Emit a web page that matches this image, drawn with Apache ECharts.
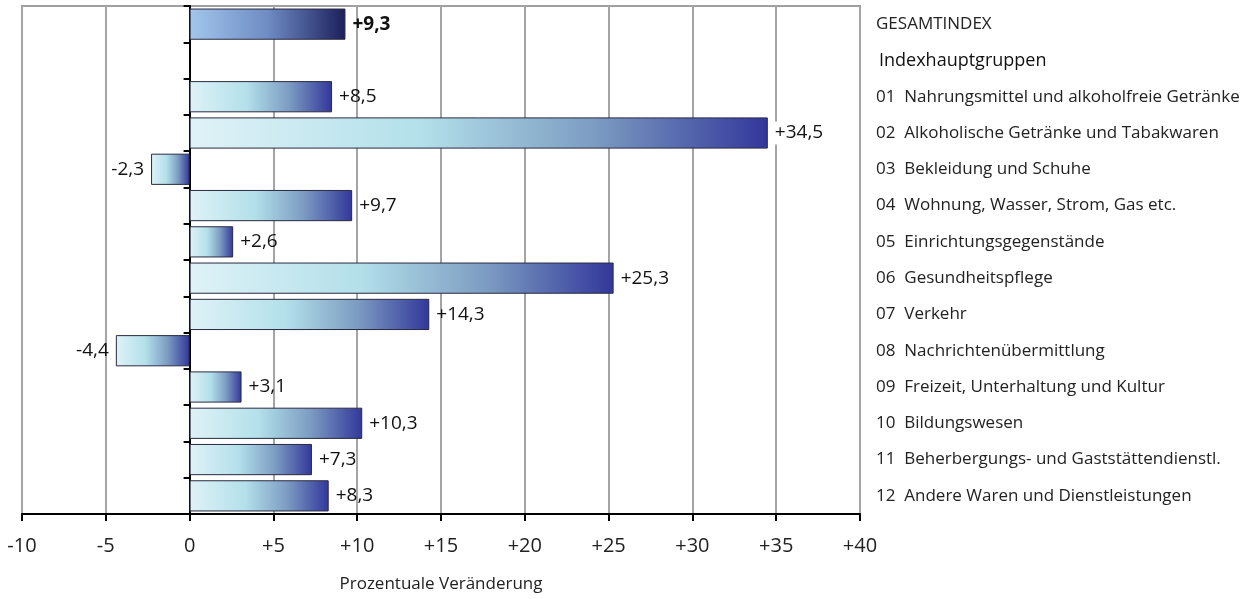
<!DOCTYPE html>
<html><head><meta charset="utf-8">
<script src="https://cdn.jsdelivr.net/npm/echarts@6/dist/echarts.min.js"></script>
<style>html,body{margin:0;padding:0;background:#fff;}#c{width:1257px;height:599px;}</style>
</head><body><div id="c"></div>
<script>
const categories = [
  'GESAMTINDEX',
  'Indexhauptgruppen',
  '01  Nahrungsmittel und alkoholfreie Getränke',
  '02  Alkoholische Getränke und Tabakwaren',
  '03  Bekleidung und Schuhe',
  '04  Wohnung, Wasser, Strom, Gas etc.',
  '05  Einrichtungsgegenstände',
  '06  Gesundheitspflege',
  '07  Verkehr',
  '08  Nachrichtenübermittlung',
  '09  Freizeit, Unterhaltung und Kultur',
  '10  Bildungswesen',
  '11  Beherbergungs- und Gaststättendienstl.',
  '12  Andere Waren und Dienstleistungen'
];
const values = [9.3, null, 8.5, 34.5, -2.3, 9.7, 2.6, 25.3, 14.3, -4.4, 3.1, 10.3, 7.3, 8.3];
const xTicks = { min: -10, max: 40, interval: 5 };

const FONT = '"Open Sans", "Noto Sans", sans-serif';
const groupGrad = { type: 'linear', x: 0, y: 0, x2: 1, y2: 0,
  colorStops: [{offset: 0, color: '#dff2f7'}, {offset: 0.4, color: '#b3e0ea'}, {offset: 0.7, color: '#7c9cc2'}, {offset: 1, color: '#32379a'}] };
const totalGrad = { type: 'linear', x: 0, y: 0, x2: 1, y2: 0,
  colorStops: [{offset: 0, color: '#a2c6eb'}, {offset: 0.5, color: '#6f8cc4'}, {offset: 1, color: '#1c1f5c'}] };

function fmt(v) {
  const s = Math.abs(v).toFixed(1).replace('.', ',');
  return (v > 0 ? '+' : (v < 0 ? '-' : '')) + s;
}

const data = values.map((v, i) => {
  if (v === null) return null;
  return {
    value: v,
    itemStyle: { color: i === 0 ? totalGrad : groupGrad },
    label: {
      show: true,
      position: v >= 0 ? 'right' : 'left',
      distance: 6,
      formatter: fmt(v),
      fontWeight: i === 0 ? 'bold' : 'normal',
      backgroundColor: i === 3 ? '#fff' : 'transparent',
      padding: [2, 1]
    }
  };
});

const chart = echarts.init(document.getElementById('c'));
chart.setOption({
  animation: false,
  grid: { left: 22, right: 397, top: 6, bottom: 85, show: true, borderColor: '#a0a0a0', borderWidth: 2,
    containLabel: false, outerBoundsMode: 'none' },
  xAxis: {
    type: 'value', min: xTicks.min, max: xTicks.max, interval: xTicks.interval,
    name: 'Prozentuale Veränderung', nameLocation: 'middle', nameGap: 62,
    nameTextStyle: { fontFamily: FONT, fontSize: 17, color: '#222' },
    axisLine: { show: true, onZero: false, lineStyle: { color: '#000', width: 2 } },
    axisTick: { show: true, length: 7, lineStyle: { color: '#000', width: 2 } },
    axisLabel: { fontFamily: FONT, fontSize: 20, color: '#222', margin: 22,
      formatter: v => (v > 0 ? '+' + v : '' + v) },
    splitLine: { show: true, lineStyle: { color: '#a4a4a4', width: 2 } }
  },
  yAxis: [{
    type: 'category', data: categories, inverse: true,
    axisLine: { show: true, onZero: true, lineStyle: { color: '#000', width: 2 } },
    axisTick: { show: true, length: 6, lineStyle: { color: '#000', width: 2 } },
    axisLabel: { show: false },
    splitLine: { show: false }
  }, {
    type: 'category', data: categories, inverse: true, position: 'right',
    axisLine: { show: false }, axisTick: { show: false },
    axisLabel: { show: true, margin: 16, align: 'left', fontFamily: FONT, fontSize: 17, color: '#222',
      formatter: (v, i) => i === 1 ? '{h|' + v + '}' : v,
      rich: { h: { fontFamily: FONT, fontSize: 18, color: '#111', padding: [0, 0, 0, 3] } } }
  }],
  series: [{
    type: 'bar', data: data, yAxisIndex: 0, barCategoryGap: '14%',
    itemStyle: { borderColor: '#2a2a40', borderWidth: 1 },
    label: { fontFamily: FONT, fontSize: 19, color: '#111' }
  }]
});
</script></body></html>
